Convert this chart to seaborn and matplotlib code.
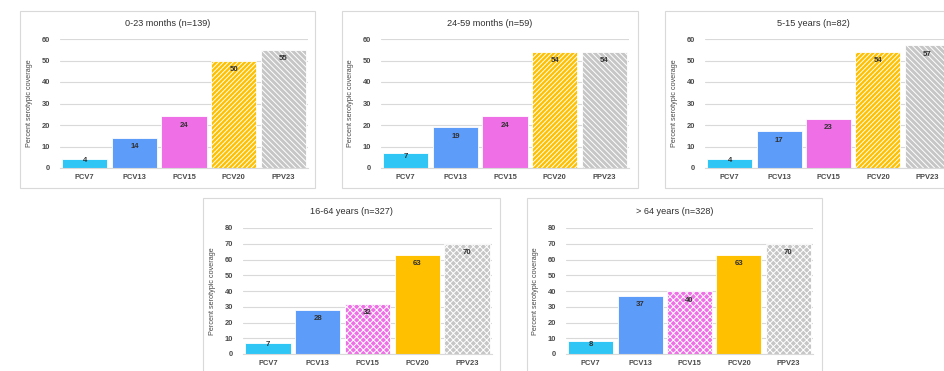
import matplotlib
matplotlib.use("Agg")
import matplotlib.pyplot as plt
import seaborn as sns
import pandas as pd
from matplotlib.patches import Rectangle

# ---- data -------------------------------------------------------------
vaccines = ["PCV7", "PCV13", "PCV15", "PCV20", "PPV23"]

titles = [
    "0-23 months (n=139)",
    "24-59 months (n=59)",
    "5-15 years (n=82)",
    "16-64 years (n=327)",
    "> 64 years (n=328)",
]

coverage_0_23m = [4, 14, 24, 50, 55]
coverage_24_59m = [7, 19, 24, 54, 54]
coverage_5_15y = [4, 17, 23, 54, 57]
coverage_16_64y = [7, 28, 32, 63, 70]
coverage_over64y = [8, 37, 40, 63, 70]

y_max_top = 60
y_max_bottom = 80

# ---- style ------------------------------------------------------------
sns.set_style("white")
plt.rcParams["font.family"] = ["Liberation Sans", "DejaVu Sans"]
plt.rcParams["hatch.linewidth"] = 0.7

TEXT = "#4a4a4a"
LABEL = "#303030"
GRID = "#D9D9D9"

palette = {
    "PCV7": "#2FC6F6",
    "PCV13": "#5E9CFA",
    "PCV15": "#EE6FE6",
    "PCV20": "#FFC000",
    "PPV23": "#C6C6C6",
}

W, H = 945, 371
fig = plt.figure(figsize=(W / 100, H / 100), dpi=100)
fig.patch.set_facecolor("white")


def px_box(left, top, right, bottom):
    return [left / W, 1 - bottom / H, (right - left) / W, (bottom - top) / H]


panels = [
    # values, ymax, axes px (l, t, r, b), frame px (l, t, r, b), hatches
    (coverage_0_23m, y_max_top, (60, 39, 308, 168), (20, 11, 315, 188),
     {"PCV20": "///////", "PPV23": "\\\\\\\\\\\\"}),
    (coverage_24_59m, y_max_top, (381, 39, 629, 168), (342, 11, 638, 188),
     {"PCV20": "///////", "PPV23": "\\\\\\\\\\\\"}),
    (coverage_5_15y, y_max_top, (705, 39, 952, 168), (665, 11, 962, 188),
     {"PCV20": "///////", "PPV23": "\\\\\\\\\\\\"}),
    (coverage_16_64y, y_max_bottom, (243, 228, 492, 354), (203, 198, 500, 385),
     {"PCV15": "xxxxx", "PPV23": "xxxxx"}),
    (coverage_over64y, y_max_bottom, (566, 228, 813, 354), (527, 198, 822, 385),
     {"PCV15": "xxxxx", "PPV23": "xxxxx"}),
]

for title, (values, ymax, axpx, frpx, hatches) in zip(titles, panels):
    # panel frame
    fl, ft, fr, fb = frpx
    fig.patches.append(Rectangle((fl / W, 1 - fb / H), (fr - fl) / W, (fb - ft) / H,
                                 transform=fig.transFigure, fill=False,
                                 edgecolor=GRID, linewidth=0.8, zorder=0))

    ax = fig.add_axes(px_box(*axpx))
    df = pd.DataFrame({"vaccine": vaccines, "coverage": values})
    sns.barplot(data=df, x="vaccine", y="coverage", hue="vaccine",
                order=vaccines, hue_order=vaccines, palette=palette,
                width=0.91, legend=False, ax=ax, edgecolor="white",
                linewidth=0.6, saturation=1)

    for patch, name in zip(ax.patches, vaccines):
        if name in hatches:
            patch.set_hatch(hatches[name])

    ax.set_ylim(0, ymax)
    ax.set_xlim(-0.5, len(vaccines) - 0.5)
    ax.set_yticks(range(0, ymax + 1, 10))
    ax.yaxis.grid(True, color=GRID, linewidth=0.8)
    ax.set_axisbelow(True)
    for side in ("top", "right", "left"):
        ax.spines[side].set_visible(False)
    ax.spines["bottom"].set_color(GRID)
    ax.spines["bottom"].set_linewidth(0.8)
    ax.tick_params(axis="both", length=0, labelsize=5.4, colors=TEXT)
    ax.tick_params(axis="y", pad=7)
    ax.tick_params(axis="x", pad=4.5)
    for lbl in ax.get_xticklabels() + ax.get_yticklabels():
        lbl.set_fontweight("bold")
    ax.set_xlabel("")
    ax.set_ylabel("")
    ax.set_facecolor("none")

    # value labels inside the top of each bar
    l, t, r, b = axpx
    px_per_unit = (b - t) / ymax
    for i, v in enumerate(values):
        bar_px = v * px_per_unit
        off_px = min(9.0, max(0.0, bar_px / 2 - 3.5))
        ax.annotate(str(v), xy=(i, v), xytext=(0, -off_px * 0.72),
                    textcoords="offset points", ha="center", va="center",
                    fontsize=5.6, color=LABEL, fontweight="bold")

    # title and y-axis label
    fig.text(((fl + fr) / 2) / W, 1 - (ft + 13) / H, title, ha="center",
             va="center", fontsize=6.6, color=LABEL)
    fig.text((l - 30) / W, 1 - ((t + b) / 2) / H, "Percent serotypic coverage",
             rotation=90, ha="center", va="center", fontsize=5.2, color=TEXT)

fig.savefig("out.png", dpi=100, facecolor="white")
